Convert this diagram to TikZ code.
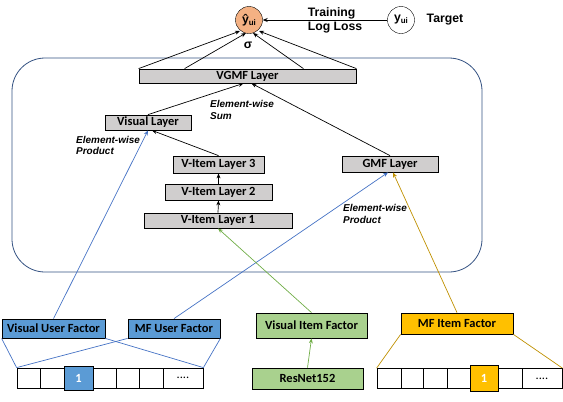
\documentclass[tikz,border=0pt]{standalone}
\usepackage{fontspec}
\setmainfont{Carlito}
\newfontfamily\arialf{Liberation Sans}
\usetikzlibrary{arrows.meta}
\definecolor{boxgray}{RGB}{208,206,206}
\definecolor{bluefill}{RGB}{91,155,213}
\definecolor{greenfill}{RGB}{169,209,142}
\definecolor{goldfill}{RGB}{255,192,0}
\definecolor{peach}{RGB}{244,177,131}
\definecolor{frame}{RGB}{52,82,130}
\definecolor{blueline}{RGB}{68,114,196}
\definecolor{greenline}{RGB}{112,173,71}
\definecolor{goldline}{RGB}{191,144,0}
\tikzset{
  lay/.style={draw=black, line width=0.8pt, fill=boxgray, inner sep=0pt, font=\bfseries\fontsize{12.5}{13}\selectfont},
  fac/.style={draw=black, line width=0.8pt, inner sep=0pt, font=\bfseries\fontsize{12.5}{13}\selectfont},
  cell/.style={draw=black, line width=0.8pt, inner sep=0pt, minimum height=20bp, font=\bfseries\fontsize{12.5}{13}\selectfont},
  arr/.style={-{Stealth[length=5bp,width=4bp]}, line width=0.7pt},
  ew/.style={font=\arialf\bfseries\itshape\fontsize{10}{11.5}\selectfont, align=left, inner sep=0pt, anchor=west},
  big/.style={font=\arialf\bfseries\fontsize{12.3}{14}\selectfont},
}
\begin{document}
\begin{tikzpicture}[x=1bp,y=-1bp]
\useasboundingbox (0,0) rectangle (563,401);
% frame
\draw[frame, line width=0.8pt, rounded corners=33bp] (12,58) rectangle (482,272);
% top
\node[circle, draw=black, fill=peach, minimum size=27bp, inner sep=0pt, big] (yhat) at (249,20) {ŷ\raisebox{-0.3ex}{\fontsize{8}{9}\selectfont ui}};
\node[circle, draw=black, fill=white, minimum size=27bp, inner sep=0pt, big] (y) at (401,20) {y\raisebox{-0.3ex}{\fontsize{8}{9}\selectfont ui}};
\node[big] (tgt) at (445,20) {Target};
\node[big, align=left] (loss) at (335,20) {Training\\Log Loss};
\node[big] (sig) at (248,45) {σ};
\draw[arr] (y) -- (yhat);
% layers
\node[lay, minimum width=217bp, minimum height=14bp] (vgmf) at (247.5,76) {VGMF Layer};
\node[lay, minimum width=86bp, minimum height=15bp] (vis) at (148,122.5) {Visual Layer};
\node[lay, minimum width=91bp, minimum height=17bp] (v3) at (218.5,164.5) {V-Item Layer 3};
\node[lay, minimum width=107bp, minimum height=16bp] (v2) at (218.5,192) {V-Item Layer 2};
\node[lay, minimum width=148bp, minimum height=15bp] (v1) at (218,220.5) {V-Item Layer 1};
\node[lay, minimum width=96bp, minimum height=16bp] (gmf) at (390,164) {GMF Layer};
% labels
\node[ew] (ews) at (210,110) {Element-wise\\Sum};
\node[ew] (ewp1) at (76,145.5) {Element-wise\\Product};
\node[ew] (ewp2) at (343,214) {Element-wise\\Product};
% arrows to output
\coordinate (t1) at (240,31);
\coordinate (t2) at (246,33);
\coordinate (t3) at (253,33);
\coordinate (t4) at (259,31);
\draw[arr] (vgmf.north west) -- (t1);
\draw[arr] ([xshift=46bp]vgmf.north west) -- (t2);
\draw[arr] ([xshift=-53bp]vgmf.north east) -- (t3);
\draw[arr] (vgmf.north east) -- (t4);
% inner arrows
\draw[arr] (vis.north) -- ([xshift=-4bp]vgmf.south);
\draw[arr] (gmf.north) -- ([xshift=4bp]vgmf.south);
\draw[arr] (v3.north) -- ([xshift=4bp]vis.south);
\draw[arr] (v2.north) -- (v3.south);
\draw[arr] (v1.north) -- (v2.south);
% bottom factors
\node[fac, fill=bluefill, minimum width=103bp, minimum height=19bp] (vuf) at (53.5,328.5) {Visual User Factor};
\node[fac, fill=bluefill, minimum width=92bp, minimum height=19bp] (muf) at (174,328.5) {MF User Factor};
\node[fac, fill=greenfill, minimum width=111bp, minimum height=25bp] (vif) at (311.5,325.5) {Visual Item Factor};
\node[fac, fill=greenfill, minimum width=111bp, minimum height=21bp] (res) at (307.5,378.5) {ResNet152};
\node[fac, fill=goldfill, minimum width=112bp, minimum height=21bp] (mif) at (457,323.5) {MF Item Factor};
% left array
\node[cell, minimum width=23bp] (la1) at (28.5,378) {};
\node[cell, minimum width=24bp] (la2) at (52,378) {};
\node[cell, minimum width=23bp] (la4) at (104.5,378) {};
\node[cell, minimum width=23bp] (la5) at (127.5,378) {};
\node[cell, minimum width=24bp] (la6) at (151,378) {};
\node[cell, minimum width=40bp] (la7) at (183,378) {\mdseries....};
\node[cell, fill=bluefill, text=white, minimum width=29bp, minimum height=24bp] (la3) at (78.5,378) {1};
% right array
\node[cell, minimum width=24bp] (ra1) at (389,378.5) {};
\node[cell, minimum width=22bp] (ra2) at (412,378.5) {};
\node[cell, minimum width=24bp] (ra3) at (435,378.5) {};
\node[cell, minimum width=23bp] (ra4) at (458.5,378.5) {};
\node[cell, minimum width=24bp] (ra6) at (510,378.5) {};
\node[cell, minimum width=40bp] (ra7) at (542,378.5) {\mdseries....};
\node[cell, fill=goldfill, text=white, minimum width=28bp, minimum height=26bp] (ra5) at (484,378.5) {1};
% fan lines
\draw[blueline, line width=0.7pt] (vuf.south west) -- (la1.north west);
\draw[blueline, line width=0.7pt] (vuf.south east) -- (la7.north east);
\draw[blueline, line width=0.7pt] (muf.south west) -- (la1.north west);
\draw[blueline, line width=0.7pt] (muf.south east) -- (la7.north east);
\draw[goldline, line width=0.7pt] (mif.south west) -- (ra1.north west);
\draw[goldline, line width=0.7pt] (mif.south east) -- (ra7.north east);
% colored arrows
\draw[arr, blueline] (vuf.north) -- (vis.south);
\draw[arr, blueline] (muf.north) -- ([xshift=-2bp]gmf.south);
\draw[arr, greenline] (vif.north) -- (v1.south);
\draw[arr, greenline] (res.north) -- (vif.south);
\draw[arr, goldline] (mif.north) -- ([xshift=3bp]gmf.south);
\end{tikzpicture}
\end{document}
